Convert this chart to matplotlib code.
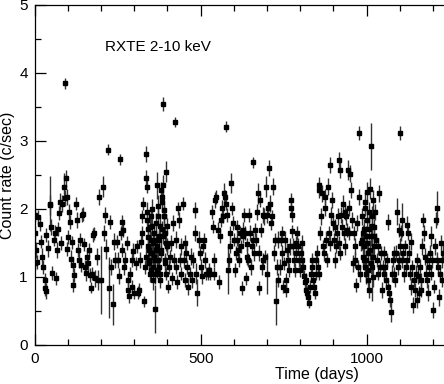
#!/usr/bin/env python3
"""RXTE 2-10 keV light curve: count rate vs time with error bars."""

import matplotlib
matplotlib.use('Agg')
import matplotlib.pyplot as plt
from matplotlib.ticker import MultipleLocator

plt.rcParams['font.family'] = ['Liberation Sans', 'DejaVu Sans']

# Time (days), count rate (c/sec) and 1-sigma error
days = [
    0, 1, 2, 4, 6, 10, 15, 20, 23, 25, 30, 31, 33, 35, 40, 45, 47, 50, 53, 57,
    60, 65, 67, 70, 73, 77, 80, 83, 87, 90, 92, 95, 96, 97, 101, 105, 107, 110, 113, 115,
    117, 120, 125, 128, 130, 133, 137, 140, 143, 147, 150, 153, 155, 158, 161, 165, 167, 170, 173, 177,
    180, 183, 187, 191, 195, 200, 205, 208, 213, 215, 220, 223, 227, 230, 235, 240, 243,
    247, 252, 254, 257, 260, 262, 264, 267, 270, 272, 277, 280, 282, 284, 287, 292, 294, 297, 300, 304,
    307, 310, 314, 317, 320, 322, 324, 327, 330, 332, 334, 336, 337, 338, 340, 342, 344, 346, 348, 350,
    352, 354, 356, 358, 360, 362, 364, 366, 368, 370, 372, 374, 376, 378, 380, 382, 384, 386, 388, 389,
    390, 392, 394, 397, 400, 402, 404, 407, 410, 414, 417, 420, 424, 425, 427, 430, 432, 434, 437, 440,
    442, 447, 450, 452, 454, 457, 460, 462, 467, 470, 474, 478, 482, 484, 487, 490,
    335, 339, 341, 343, 345, 349, 351, 353, 355, 357, 361, 363, 365, 367, 369, 371, 373, 375, 377, 379,
    381, 383, 385, 387, 391, 393, 395, 396, 398, 399,
    494, 497, 501, 504, 507, 511, 514, 517, 521, 525, 529, 534, 537, 539, 541, 544, 547, 551, 554, 557,
    561, 564, 567, 569, 573, 575, 577, 579, 581, 584, 587, 589, 592, 595, 597, 601, 604, 607, 609, 611,
    614, 617, 619, 621, 624, 627, 629, 631, 634, 637, 639, 641, 644, 647, 649, 652, 654, 657, 659, 662,
    665, 667, 669, 672, 675, 677, 679, 682, 684, 687, 689, 692, 694, 697, 699, 701, 704, 707, 709, 711,
    714, 717, 721, 724, 727, 729, 732, 734,
    738, 741, 744, 746, 748, 751, 754, 756, 758, 761, 764, 766, 769, 771, 773, 774, 776, 778, 781, 784,
    786, 788, 791, 794, 796, 798, 801, 804, 806, 809, 811, 814, 816, 818, 821, 824, 826, 828, 831, 834,
    836, 838, 841, 844, 846, 848, 851, 854, 855, 856, 858, 861, 864, 866, 869, 871, 874, 876, 879, 881,
    884, 886, 889, 891, 894, 896, 898, 901, 904, 906, 908, 911, 914, 916, 918, 919, 921, 924, 926, 929,
    931, 934, 936, 939, 941, 944, 946, 948, 951, 954, 956, 958, 961, 964, 966, 968, 971, 974, 977, 978,
    981,
    985, 988, 991, 993, 995, 998, 1001, 1003, 1005, 1008, 1011, 1013, 1015, 1017, 1019, 1021, 1023, 1025, 1028, 1031,
    1033, 1035, 1038, 1041, 1043, 1045, 1048, 1051, 1053, 1055, 1058, 1061, 1063, 1065, 1068, 1071, 1073, 1075, 1078, 1081,
    1083, 1085, 1088, 1091, 1093, 1096, 1098, 1100, 1101, 1103, 1106, 1108, 1111, 1113, 1115, 1118, 1121, 1123, 1125, 1128,
    1131, 1133, 1135, 1138, 1141, 1143, 1145, 1148, 1151, 1153, 1156, 1158, 1161, 1163, 1165, 1168, 1171, 1173, 1175, 1178,
    1181, 1183, 1185, 1188, 1191, 1193, 1195, 1198, 1201, 1203, 1205, 1208, 1211, 1213, 1215, 1218, 1221, 1223, 1226, 1228,
    1231,
    986, 989, 992, 994, 997, 999, 1002, 1004, 1006, 1009, 1012, 1014, 1016, 1018, 1020, 1022, 983, 996, 1000, 1007,
]

rate = [
    1.91, 1.20, 1.65, 1.40, 1.22, 1.88, 1.78, 1.52, 1.30, 1.15, 0.96, 0.84, 0.79, 1.62, 1.42, 2.06, 2.08, 1.74, 1.06, 1.55,
    1.65, 0.98, 1.40, 1.71, 1.94, 2.11, 1.50, 2.08, 2.33, 2.16, 3.85, 2.45, 2.18, 1.41, 1.59, 1.96, 1.81, 1.27, 1.51, 1.18,
    0.88, 1.03, 2.08, 1.84, 1.40, 1.25, 1.55, 1.18, 1.91, 1.93, 1.48, 1.15, 1.06, 1.30, 1.20, 1.40, 1.03, 0.84, 1.05, 1.62,
    1.64, 0.98, 1.30, 0.96, 2.18, 0.96, 2.33, 1.65, 1.91, 1.41, 2.87, 0.84, 1.81, 1.15, 0.60, 1.52, 1.25,
    1.52, 1.25, 1.01, 2.73, 1.65, 1.81, 1.40, 1.69, 1.15, 1.25, 1.50, 0.96, 0.81, 0.72, 1.05, 1.25, 0.86, 1.38, 0.77, 1.20,
    1.45, 0.77, 0.81, 1.25, 1.52, 1.65, 1.89, 2.08, 0.64, 1.15, 2.81, 2.45, 2.33, 1.84, 1.59, 1.45, 1.25, 1.05, 1.74, 1.89,
    1.55, 1.35, 1.15, 0.96, 1.65, 1.25, 0.53, 1.79, 1.45, 2.35, 1.89, 1.55, 1.15, 0.96, 1.35, 2.28, 2.18, 2.35, 3.54, 1.99,
    1.89, 1.65, 1.25, 1.05, 1.45, 0.86, 1.15, 1.30, 1.50, 0.98, 1.79, 1.25, 3.28, 1.55, 1.15, 0.93, 2.01, 1.84, 1.25, 1.05,
    1.45, 2.08, 1.25, 0.96, 1.50, 1.35, 1.15, 0.86, 1.05, 1.30, 0.96, 1.25, 1.99, 1.65, 1.05, 0.77,
    1.30, 1.95, 1.70, 1.40, 1.20, 1.10, 1.35, 2.00, 1.75, 1.50, 1.30, 1.05, 1.55, 1.40, 1.10, 2.05, 1.25, 1.60, 1.05, 1.75,
    1.40, 1.70, 2.10, 1.60, 1.90, 1.20, 1.50, 2.55, 1.75, 1.45,
    1.55, 1.35, 1.15, 1.01, 1.45, 1.55, 1.25, 1.05, 1.05, 1.10, 1.05, 1.96, 1.74, 1.25, 1.05, 2.13, 2.18, 1.69, 0.93, 1.60,
    1.84, 2.01, 1.89, 2.23, 2.18, 3.21, 2.08, 1.91, 1.10, 1.25, 1.65, 1.45, 2.38, 2.01, 1.79, 1.55, 1.10, 1.35, 1.55, 1.74,
    1.40, 1.25, 1.65, 1.45, 0.84, 1.69, 1.60, 1.91, 1.65, 0.98, 1.30, 1.48, 1.25, 1.91, 1.65, 1.15, 1.45, 2.69, 1.55, 1.35,
    1.69, 1.55, 1.96, 2.23, 0.84, 1.35, 2.13, 1.69, 1.15, 1.91, 1.25, 1.89, 1.30, 2.33, 1.05, 1.91, 2.01, 2.60, 2.08, 1.79,
    1.89, 2.33, 1.35, 1.55, 0.64, 1.15, 0.96, 1.55,
    1.15, 1.55, 1.35, 1.65, 0.86, 1.20, 1.55, 0.96, 0.81, 1.40, 1.25, 1.10, 1.45, 2.13, 2.01, 1.91, 1.67, 1.45, 1.25, 1.10,
    1.50, 1.35, 1.65, 1.45, 1.25, 1.10, 1.35, 1.50, 1.25, 1.15, 1.01, 0.93, 0.96, 0.81, 0.77, 0.70, 0.62, 0.86, 1.05, 1.25,
    1.15, 0.96, 0.86, 0.77, 1.05, 1.25, 1.35, 1.15, 2.35, 1.05, 2.28, 1.65, 1.89, 2.23, 1.45, 1.35, 2.01, 2.18, 1.55, 1.25,
    2.33, 1.65, 1.50, 2.65, 1.91, 2.13, 1.79, 1.55, 1.25, 1.74, 1.45, 1.65, 1.89, 1.50, 2.72, 2.57, 1.35, 1.91, 1.74, 2.08,
    1.65, 1.45, 1.96, 1.89, 1.69, 2.57, 2.01, 1.65, 2.52, 2.28, 1.84, 1.20, 1.65, 1.25, 1.45, 0.88, 1.79, 1.15, 3.12, 2.18,
    1.05,
    1.89, 1.65, 1.45, 1.25, 2.01, 1.05, 1.84, 1.35, 0.96, 0.81, 2.30, 2.92, 1.89, 1.15, 2.13, 1.45, 1.74, 1.96, 1.55, 1.25,
    1.05, 1.45, 2.23, 1.15, 1.35, 0.81, 1.15, 1.05, 1.35, 1.15, 0.96, 1.25, 1.81, 0.86, 0.77, 0.66, 0.49, 1.05, 1.25, 1.35,
    1.05, 0.96, 1.35, 1.96, 1.15, 1.69, 1.25, 3.12, 1.45, 1.65, 1.84, 1.25, 1.35, 1.05, 1.45, 1.15, 1.77, 1.25, 1.65, 1.35,
    1.05, 1.52, 0.86, 1.15, 0.59, 0.96, 0.81, 1.05, 0.66, 1.25, 1.01, 0.77, 1.15, 0.96, 0.81, 1.45, 1.84, 1.65, 1.30, 1.05,
    1.25, 0.96, 0.77, 1.15, 1.35, 1.60, 1.05, 1.25, 0.51, 0.86, 1.45, 1.84, 1.25, 2.01, 1.15, 0.70, 1.05, 1.50, 1.25, 0.96,
    1.35,
    1.55, 1.30, 1.70, 1.15, 1.60, 1.25, 1.50, 1.10, 1.70, 1.40, 1.60, 1.20, 1.75, 1.00, 1.30, 1.60, 1.50, 2.10, 2.25, 1.95,
]

err = [
    0.10, 0.10, 0.10, 0.12, 0.10, 0.10, 0.10, 0.10, 0.12, 0.10, 0.10, 0.12, 0.12, 0.10, 0.12, 0.15, 0.40, 0.12, 0.10, 0.10,
    0.12, 0.10, 0.12, 0.10, 0.10, 0.12, 0.10, 0.12, 0.20, 0.12, 0.08, 0.12, 0.12, 0.10, 0.10, 0.12, 0.10, 0.12, 0.10, 0.10,
    0.10, 0.10, 0.10, 0.12, 0.10, 0.12, 0.10, 0.10, 0.10, 0.10, 0.10, 0.10, 0.12, 0.10, 0.12, 0.10, 0.10, 0.08, 0.10, 0.10,
    0.10, 0.12, 0.12, 0.15, 0.12, 0.50, 0.15, 0.12, 0.12, 0.15, 0.08, 0.45, 0.10, 0.12, 0.30, 0.12, 0.12,
    0.10, 0.12, 0.12, 0.08, 0.10, 0.10, 0.10, 0.10, 0.12, 0.12, 0.10, 0.10, 0.12, 0.10, 0.10, 0.10, 0.10, 0.12, 0.10, 0.10,
    0.10, 0.10, 0.10, 0.12, 0.10, 0.10, 0.10, 0.10, 0.08, 0.10, 0.12, 0.12, 0.10, 0.12, 0.12, 0.15, 0.12, 0.12, 0.15, 0.12,
    0.12, 0.15, 0.12, 0.15, 0.15, 0.15, 0.35, 0.15, 0.15, 0.20, 0.15, 0.12, 0.15, 0.12, 0.12, 0.12, 0.12, 0.15, 0.10, 0.12,
    0.12, 0.12, 0.10, 0.10, 0.10, 0.10, 0.10, 0.10, 0.12, 0.10, 0.12, 0.10, 0.08, 0.12, 0.10, 0.10, 0.10, 0.12, 0.10, 0.10,
    0.12, 0.10, 0.12, 0.10, 0.12, 0.12, 0.10, 0.12, 0.10, 0.12, 0.12, 0.12, 0.12, 0.12, 0.15, 0.20,
    0.12, 0.15, 0.12, 0.12, 0.15, 0.12, 0.15, 0.15, 0.12, 0.12, 0.15, 0.15, 0.15, 0.15, 0.12, 0.15, 0.15, 0.12, 0.12, 0.12,
    0.15, 0.12, 0.15, 0.12, 0.15, 0.12, 0.12, 0.15, 0.12, 0.12,
    0.12, 0.10, 0.12, 0.12, 0.10, 0.10, 0.12, 0.10, 0.10, 0.10, 0.10, 0.10, 0.10, 0.10, 0.10, 0.12, 0.10, 0.12, 0.10, 0.10,
    0.10, 0.12, 0.10, 0.15, 0.10, 0.08, 0.10, 0.10, 0.35, 0.10, 0.10, 0.10, 0.15, 0.10, 0.10, 0.10, 0.10, 0.10, 0.10, 0.10,
    0.12, 0.10, 0.10, 0.10, 0.10, 0.12, 0.10, 0.10, 0.10, 0.10, 0.12, 0.10, 0.10, 0.10, 0.12, 0.12, 0.10, 0.08, 0.10, 0.12,
    0.10, 0.10, 0.12, 0.15, 0.10, 0.12, 0.10, 0.10, 0.12, 0.12, 0.10, 0.12, 0.10, 0.15, 0.30, 0.12, 0.10, 0.12, 0.12, 0.10,
    0.10, 0.12, 0.12, 0.10, 0.35, 0.12, 0.10, 0.12,
    0.12, 0.10, 0.12, 0.10, 0.10, 0.10, 0.12, 0.10, 0.10, 0.10, 0.12, 0.10, 0.12, 0.10, 0.10, 0.10, 0.10, 0.12, 0.10, 0.10,
    0.10, 0.10, 0.10, 0.12, 0.10, 0.10, 0.10, 0.12, 0.10, 0.10, 0.10, 0.10, 0.10, 0.10, 0.10, 0.10, 0.08, 0.10, 0.10, 0.10,
    0.10, 0.10, 0.10, 0.10, 0.10, 0.10, 0.12, 0.10, 0.12, 0.10, 0.12, 0.10, 0.12, 0.12, 0.10, 0.12, 0.12, 0.12, 0.12, 0.10,
    0.12, 0.10, 0.12, 0.12, 0.12, 0.12, 0.12, 0.10, 0.12, 0.12, 0.10, 0.12, 0.12, 0.10, 0.12, 0.12, 0.10, 0.12, 0.12, 0.12,
    0.10, 0.12, 0.12, 0.12, 0.10, 0.15, 0.12, 0.10, 0.12, 0.12, 0.12, 0.12, 0.10, 0.12, 0.12, 0.10, 0.12, 0.10, 0.10, 0.12,
    0.12,
    0.12, 0.12, 0.12, 0.15, 0.12, 0.15, 0.12, 0.12, 0.15, 0.12, 0.15, 0.35, 0.15, 0.50, 0.15, 0.12, 0.12, 0.12, 0.10, 0.10,
    0.10, 0.12, 0.12, 0.10, 0.10, 0.12, 0.10, 0.10, 0.10, 0.10, 0.12, 0.10, 0.12, 0.10, 0.12, 0.10, 0.15, 0.12, 0.10, 0.10,
    0.10, 0.10, 0.12, 0.20, 0.12, 0.10, 0.12, 0.10, 0.12, 0.12, 0.25, 0.12, 0.10, 0.12, 0.10, 0.12, 0.12, 0.12, 0.10, 0.12,
    0.10, 0.12, 0.12, 0.10, 0.12, 0.10, 0.10, 0.12, 0.12, 0.10, 0.12, 0.10, 0.12, 0.10, 0.10, 0.12, 0.10, 0.12, 0.12, 0.12,
    0.10, 0.12, 0.12, 0.12, 0.12, 0.15, 0.10, 0.12, 0.12, 0.10, 0.12, 0.12, 0.12, 0.25, 0.10, 0.12, 0.12, 0.12, 0.12, 0.10,
    0.12,
    0.15, 0.15, 0.15, 0.15, 0.15, 0.15, 0.15, 0.15, 0.15, 0.15, 0.15, 0.15, 0.15, 0.15, 0.15, 0.15, 0.12, 0.15, 0.15, 0.15,
]

label_text = 'RXTE 2-10 keV'


def main():
    fig = plt.figure(figsize=(4.44, 3.84), dpi=100)
    ax = fig.add_axes([0.078, 0.1016, 0.922, 0.8854])

    ax.errorbar(days, rate, yerr=err, fmt='s', ms=3.3, mfc='black', mec='black',
                ecolor='#333333', elinewidth=1.0, capsize=0)

    ax.set_xlim(0, 1233)
    ax.set_ylim(0, 5)
    ax.spines['right'].set_visible(False)
    for s in ('left', 'bottom', 'top'):
        ax.spines[s].set_linewidth(0.9)

    ax.xaxis.set_major_locator(MultipleLocator(500))
    ax.xaxis.set_minor_locator(MultipleLocator(100))
    ax.yaxis.set_major_locator(MultipleLocator(1))
    ax.yaxis.set_minor_locator(MultipleLocator(0.5))
    ax.tick_params(which='both', direction='in', top=True, right=False,
                   labelsize=11, width=0.9)
    ax.tick_params(which='major', length=8, pad=5)
    ax.tick_params(which='minor', length=4)

    ax.set_xlabel('Time (days)', fontsize=11.5)
    ax.xaxis.set_label_coords(0.689, -0.066)
    ax.set_ylabel('Count rate (c/sec)', fontsize=11.5)
    ax.yaxis.set_label_coords(-0.048, 0.5)

    ax.text(0.172, 0.876, label_text, transform=ax.transAxes,
            fontsize=11, ha='left', va='center')

    fig.savefig('out.png', dpi=100)


if __name__ == '__main__':
    main()
